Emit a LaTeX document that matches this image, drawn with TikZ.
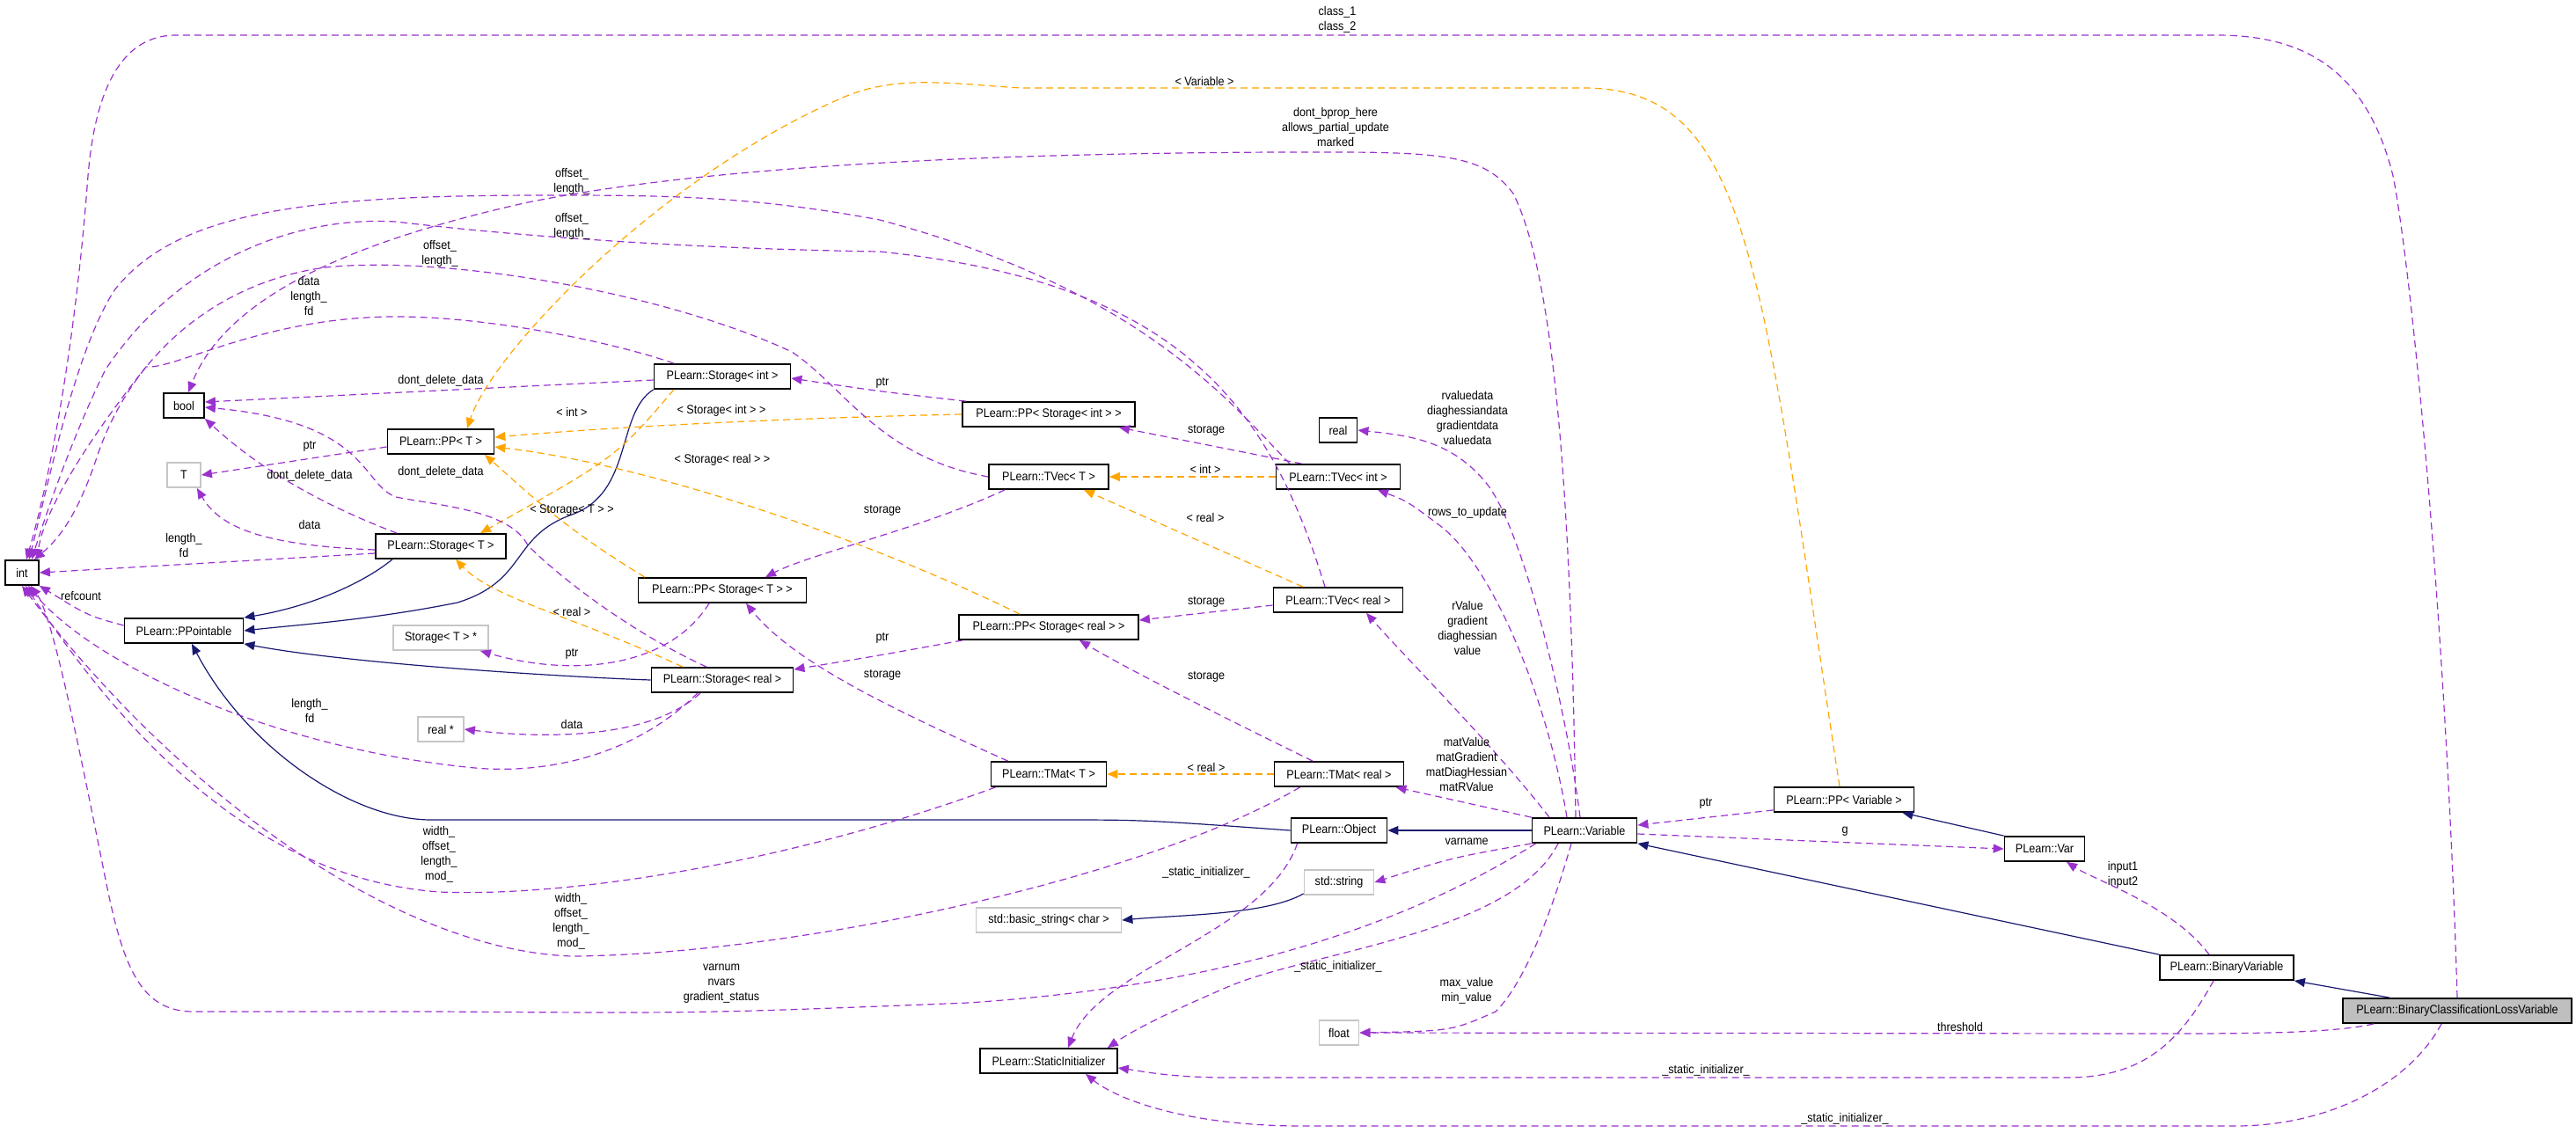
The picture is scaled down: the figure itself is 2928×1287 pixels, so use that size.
\documentclass[tikz,border=0pt]{standalone}
\usepackage{fontspec}
\setmainfont{Liberation Sans}[FakeStretch=0.9]
\usetikzlibrary{arrows.meta,calc}
\definecolor{usec}{RGB}{154,50,205}
\definecolor{tmplc}{RGB}{255,165,0}
\definecolor{inhc}{RGB}{25,25,112}
\tikzset{
 box/.style={draw=black,line width=0.9pt,fill=white,minimum height=14pt,inner sep=0pt,font=\fontsize{7}{8.5}\selectfont},
 gbox/.style={box,draw=gray!45},
 hbox/.style={box,fill=gray!50},
 lbl/.style={font=\fontsize{7}{8.5}\selectfont,align=center,inner sep=0pt},
 tip/.style={-{Triangle[length=6pt,width=5pt]}},
 usee/.style={tip,draw=usec,dashed,dash pattern=on 4pt off 2.5pt,line width=0.6pt},
 tmple/.style={tip,draw=tmplc,dashed,dash pattern=on 4pt off 2.5pt,line width=0.6pt},
 inhe/.style={tip,draw=inhc,line width=0.6pt},
}
\begin{document}
\begin{tikzpicture}[x=0.5pt,y=-0.5pt]
\useasboundingbox (0,0) rectangle (2928,1287);
% nodes
\node[box,minimum width=19pt] (int) at (25,651) {int};
\node[box,minimum width=23pt] (bool) at (209,461) {bool};
\node[box,minimum width=60.5pt] (ppT) at (501,502) {PLearn::PP< T >};
\node[gbox,minimum width=19pt] (T) at (209,540) {T};
\node[box,minimum width=77.5pt] (sI) at (821,428) {PLearn::Storage< int >};
\node[box,minimum width=74pt] (sT) at (501,621) {PLearn::Storage< T >};
\node[box,minimum width=67.5pt] (ppt) at (209,717) {PLearn::PPointable};
\node[box,minimum width=95.5pt] (ppST) at (821,671) {PLearn::PP< Storage< T > >};
\node[gbox,minimum width=54pt] (sTp) at (501,725) {Storage< T > *};
\node[box,minimum width=80.5pt] (sR) at (821,773) {PLearn::Storage< real >};
\node[gbox,minimum width=26pt] (realp) at (501,829) {real *};
\node[box,minimum width=98pt] (ppSI) at (1192,471) {PLearn::PP< Storage< int > >};
\node[box,minimum width=68pt] (tvT) at (1192,542) {PLearn::TVec< T >};
\node[box,minimum width=21.5pt] (real) at (1521,489) {real};
\node[box,minimum width=70.5pt] (tvI) at (1521,542) {PLearn::TVec< int >};
\node[box,minimum width=73.5pt] (tvR) at (1521,682) {PLearn::TVec< real >};
\node[box,minimum width=102pt] (ppSR) at (1192,713) {PLearn::PP< Storage< real > >};
\node[box,minimum width=65.5pt] (tmT) at (1192,880) {PLearn::TMat< T >};
\node[box,minimum width=73.5pt] (tmR) at (1522,880) {PLearn::TMat< real >};
\node[box,minimum width=54.5pt] (obj) at (1522,944) {PLearn::Object};
\node[box,minimum width=59.5pt] (variable) at (1801,944) {PLearn::Variable};
\node[box,minimum width=79.5pt] (ppv) at (2096,909) {PLearn::PP< Variable >};
\node[box,minimum width=45.5pt] (gvar) at (2324,965) {PLearn::Var};
\node[gbox,minimum width=39.5pt] (str) at (1522,1003) {std::string};
\node[gbox,minimum width=82.5pt] (bstr) at (1192,1046) {std::basic\_string< char >};
\node[box,minimum width=76pt] (bv) at (2531,1100) {PLearn::BinaryVariable};
\node[hbox,minimum width=130pt] (bclv) at (2793,1149) {PLearn::BinaryClassificationLossVariable};
\node[gbox,minimum width=22.5pt] (float) at (1522,1174) {float};
\node[box,minimum width=78pt] (si) at (1192,1206) {PLearn::StaticInitializer};
% inheritance
\draw[inhe] ($(sT.south)+(-55,0)$) .. controls (410,665) and (350,690) .. (ppt.north east);
\draw[inhe] (sI.south west) .. controls (700,470) and (720,560) .. (650,585) .. controls (580,610) and (600,660) .. (520,685) .. controls (420,705) and (340,710) .. (ppt.east);
\draw[inhe] (sR.west) .. controls (650,770) and (400,755) .. (ppt.south east);
\draw[inhe] (obj.west) .. controls (1300,932) .. (1200,932) -- (490,932) .. controls (400,932) and (280,850) .. ($(ppt.south)+(9,0)$);
\draw[inhe] (variable.west) -- (obj.east);
\draw[inhe] ($(str.south west)+(0,-2)$) .. controls (1440,1040) and (1340,1040) .. (bstr.east);
\draw[inhe] (gvar.north west) -- ($(ppv.south east)+(-14,0)$);
\draw[inhe] (bv.north west) -- (variable.south east);
\draw[inhe] ($(bclv.north)+(-77,0)$) -- ($(bv.south east)$);
% templates
\draw[tmple] ($(sI.south)+(-55,0)$) .. controls (700,520) .. ($(sT.north)+(45,0)$);
\draw[tmple] (ppSI.west) .. controls (900,475) and (700,485) .. ($(ppT.east)+(0,-5)$);
\draw[tmple] ($(ppSR.north)+(-33,0)$) .. controls (1000,620) and (750,530) .. ($(ppT.east)+(0,6)$);
\draw[tmple] ($(ppST.north)+(-88,0)$) .. controls (640,600) and (600,560) .. ($(ppT.south)+(50,0)$);
\draw[tmple] ($(sR.north)+(-45,0)$) .. controls (650,700) and (560,680) .. ($(sT.south)+(17,0)$);
\draw[tmple] (tvI.west) -- (tvT.east);
\draw[tmple] ($(tvR.north)+(-40,0)$) -- ($(tvT.south)+(40,0)$);
\draw[tmple] (tmR.west) -- (tmT.east);
\draw[tmple] ($(ppv.north)+(-5,0)$) .. controls (2000,300) and (1990,100) .. (1800,100) -- (1160,100) .. controls (1080,95) and (1020,85) .. (960,110) .. controls (750,200) and (560,400) .. ($(ppT.north)+(30,0)$);
% uses
\draw[usee] (bclv.north) .. controls (2780,700) and (2740,300) .. (2720,200) .. controls (2690,80) and (2620,40) .. (2520,40) -- (200,40) .. controls (150,40) and (110,80) .. (100,200) .. controls (85,400) and (55,550) .. ($(int.north)+(5,0)$);
\draw[usee] ($(variable.north)+(-10,0)$) .. controls (1785,500) and (1760,300) .. (1720,220) .. controls (1690,180) and (1650,173) .. (1520,173) -- (1450,173) .. controls (1000,175) and (750,200) .. (600,230) .. controls (420,270) and (260,330) .. ($(bool.north)+(5,0)$);
\draw[usee] ($(tvI.north)+(-55,0)$) .. controls (1400,460) and (1300,330) .. (1000,250) .. controls (850,222) and (750,222) .. (620,222) .. controls (350,222) and (200,240) .. (130,330) .. controls (85,400) and (55,550) .. ($(int.north)+(8,0)$);
\draw[usee] ($(tvR.north)+(-15,0)$) .. controls (1440,450) and (1330,320) .. (1000,286) .. controls (800,283) and (600,270) .. (450,252) .. controls (330,245) and (200,300) .. (120,420) .. controls (90,480) and (60,560) .. ($(int.north)+(11,0)$);
\draw[usee] (tvT.west) .. controls (1000,520) and (960,440) .. (900,400) .. controls (750,330) and (500,290) .. (370,304) .. controls (250,320) and (150,400) .. (110,520) .. controls (90,580) and (70,610) .. ($(int.north)+(14,0)$);
\draw[usee] ($(sI.north)+(-55,0)$) .. controls (700,390) and (560,360) .. (450,360) .. controls (300,360) and (200,420) .. (166,417) .. controls (100,500) and (50,580) .. ($(int.north)+(17,0)$);
\draw[usee] ($(sI.west)+(0,4)$) -- ($(bool.east)+(0,-4)$);
\draw[usee] ($(ppSI.north west)+(5,0)$) .. controls (1000,445) .. ($(sI.east)+(0,2)$);
\draw[usee] ($(tvI.north west)+(30,0)$) -- ($(ppSI.south)+(80,0)$);
\draw[usee] ($(variable.north)+(-5,0)$) .. controls (1780,800) and (1730,600) .. (1690,550) .. controls (1650,500) and (1600,495) .. (real.east);
\draw[usee] ($(variable.north)+(-20,0)$) .. controls (1760,800) and (1700,650) .. (1640,600) .. controls (1600,570) .. ($(tvI.south)+(45,0)$);
\draw[usee] ($(variable.north)+(-40,0)$) .. controls (1700,850) and (1600,750) .. ($(tvR.south)+(32,0)$);
\draw[usee] (variable.north west) -- ($(tmR.south east)+(-10,0)$);
\draw[usee] ($(variable.south west)+(5,0)$) .. controls (1600,1050) and (1400,1120) .. (1100,1140) .. controls (800,1152) .. (500,1150) -- (220,1150) .. controls (160,1150) and (140,1100) .. (120,1000) .. controls (90,850) and (60,700) .. ($(int.south)+(10,0)$);
\draw[usee] (variable.south west) .. controls (1650,975) .. (str.east);
\draw[usee] ($(variable.south)+(-30,0)$) .. controls (1720,1060) and (1500,1080) .. (1400,1120) .. controls (1330,1150) and (1290,1170) .. ($(si.north east)+(-12,0)$);
\draw[usee] ($(obj.south west)+(8,0)$) .. controls (1440,1060) and (1250,1100) .. ($(si.north)+(22,0)$);
\draw[usee] ($(variable.south)+(-15,0)$) .. controls (1760,1050) and (1730,1120) .. (1700,1150) .. controls (1650,1172) .. (float.east);
\draw[usee] ($(bclv.south)+(-95,0)$) .. controls (2650,1175) and (2550,1175) .. (2450,1175) -- (float.east);
\draw[usee] ($(bv.south)+(-15,0)$) .. controls (2480,1180) and (2440,1225) .. (2350,1225) -- (1400,1225) .. controls (1330,1225) and (1300,1218) .. ($(si.east)+(0,8)$);
\draw[usee] ($(bclv.south)+(-18,0)$) .. controls (2740,1230) and (2650,1280) .. (2540,1280) -- (1480,1280) .. controls (1350,1280) and (1270,1250) .. ($(si.south)+(42,0)$);
\draw[usee] ($(bv.north)+(-20,0)$) .. controls (2470,1030) and (2380,1000) .. ($(gvar.south)+(25,0)$);
\draw[usee] ($(ppv.south west)+(0,-3)$) -- ($(variable.east)+(0,-6)$);
\draw[usee] ($(variable.east)+(0,4)$) -- (gvar.west);
\draw[usee] ($(tmR.north)+(-30,0)$) .. controls (1400,820) and (1280,760) .. ($(ppSR.south)+(35,0)$);
\draw[usee] ($(tmT.north west)+(20,0)$) .. controls (1000,800) and (900,750) .. ($(ppST.south)+(27,0)$);
\draw[usee] ($(tvT.south)+(-50,0)$) .. controls (1050,600) and (920,630) .. ($(ppST.north)+(49,0)$);
\draw[usee] ($(tvR.west)+(0,6)$) -- ($(ppSR.east)+(0,-8)$);
\draw[usee] ($(ppSR.south west)+(5,0)$) .. controls (1000,745) .. ($(sR.east)+(0,-12)$);
\draw[usee] ($(ppST.south)+(-15,0)$) .. controls (760,760) and (650,770) .. ($(sTp.south east)+(-10,0)$);
\draw[usee] ($(sR.south)+(-25,0)$) .. controls (740,840) and (620,840) .. (realp.east);
\draw[usee] ($(sR.south)+(-28,0)$) .. controls (720,860) and (620,880) .. (540,873) .. controls (300,850) and (100,750) .. ($(int.south)+(7,0)$);
\draw[usee] ($(sR.north)+(-18,0)$) .. controls (720,720) and (640,660) .. (600,620) .. controls (580,580) and (500,575) .. (450,565) .. controls (410,550) and (420,480) .. ($(bool.east)+(0,2)$);
\draw[usee] ($(sT.north west)+(25,0)$) .. controls (330,560) and (270,510) .. (bool.south east);
\draw[usee] ($(sT.west)+(0,4)$) .. controls (300,620) and (250,600) .. ($(T.south east)+(-5,0)$);
\draw[usee] ($(sT.west)+(0,8)$) -- (int.east);
\draw[usee] ($(ppT.west)+(0,6)$) -- (T.east);
\draw[usee] ($(ppt.west)+(0,-6)$) .. controls (100,700) .. (int.south east);
\draw[usee] ($(tmT.south west)+(6,0)$) .. controls (900,980) and (650,1020) .. (500,1014) .. controls (300,1000) and (150,850) .. ($(int.south)+(4,0)$);
\draw[usee] ($(tmR.south west)+(30,0)$) .. controls (1300,1000) and (900,1085) .. (650,1087) .. controls (450,1080) and (200,900) .. (int.south);
% labels
\node[lbl] (l1) at (1520,22) {class\_1\\class\_2};
\node[lbl] (l2) at (1369,92) {< Variable >};
\node[lbl] (l3) at (1518,144) {dont\_bprop\_here\\allows\_partial\_update\\marked};
\node[lbl] (l4) at (650,206) {offset\_\\length\_};
\node[lbl] (l5) at (650,257) {offset\_\\length\_};
\node[lbl] (l6) at (500,288) {offset\_\\length\_};
\node[lbl] (l7) at (351,336) {data\\length\_\\fd};
\node[lbl] (l8) at (501,433) {dont\_delete\_data};
\node[lbl] (l9) at (650,468) {< int >};
\node[lbl] (l10) at (820,467) {< Storage< int > >};
\node[lbl] (l11) at (1003,435) {ptr};
\node[lbl] (l12) at (1371,489) {storage};
\node[lbl] (l13) at (1668,475) {rvaluedata\\diaghessiandata\\gradientdata\\valuedata};
\node[lbl] (l14) at (352,507) {ptr};
\node[lbl] (l15) at (352,541) {dont\_delete\_data};
\node[lbl] (l16) at (501,537) {dont\_delete\_data};
\node[lbl] (l17) at (821,523) {< Storage< real > >};
\node[lbl] (l18) at (1370,533) {< int >};
\node[lbl] (l19) at (650,580) {< Storage< T > >};
\node[lbl] (l20) at (1003,580) {storage};
\node[lbl] (l21) at (1370,588) {< real >};
\node[lbl] (l22) at (1668,583) {rows\_to\_update};
\node[lbl] (l23) at (352,596) {data};
\node[lbl] (l24) at (209,620) {length\_\\fd};
\node[lbl] (l25) at (92,677) {refcount};
\node[lbl] (l26) at (650,695) {< real >};
\node[lbl] (l27) at (1371,684) {storage};
\node[lbl] (l28) at (1668,714) {rValue\\gradient\\diaghessian\\value};
\node[lbl] (l29) at (1003,725) {ptr};
\node[lbl] (l30) at (650,743) {ptr};
\node[lbl] (l31) at (1003,767) {storage};
\node[lbl] (l32) at (1371,769) {storage};
\node[lbl] (l33) at (352,808) {length\_\\fd};
\node[lbl] (l34) at (650,823) {data};
\node[lbl] (l35) at (1371,872) {< real >};
\node[lbl] (l36) at (1667,869) {matValue\\matGradient\\matDiagHessian\\matRValue};
\node[lbl] (l37) at (1939,913) {ptr};
\node[lbl] (l38) at (2097,945) {g};
\node[lbl] (l39) at (1667,957) {varname};
\node[lbl] (l40) at (499,971) {width\_\\offset\_\\length\_\\mod\_};
\node[lbl] (l41) at (1371,992) {\_static\_initializer\_};
\node[lbl] (l42) at (2413,994) {input1\\input2};
\node[lbl] (l43) at (649,1047) {width\_\\offset\_\\length\_\\mod\_};
\node[lbl] (l44) at (1521,1099) {\_static\_initializer\_};
\node[lbl] (l45) at (820,1118) {varnum\\nvars\\gradient\_status};
\node[lbl] (l46) at (1667,1126) {max\_value\\min\_value};
\node[lbl] (l47) at (2228,1167) {threshold};
\node[lbl] (l48) at (1939,1217) {\_static\_initializer\_};
\node[lbl] (l49) at (2097,1272) {\_static\_initializer\_};
\end{tikzpicture}
\end{document}
